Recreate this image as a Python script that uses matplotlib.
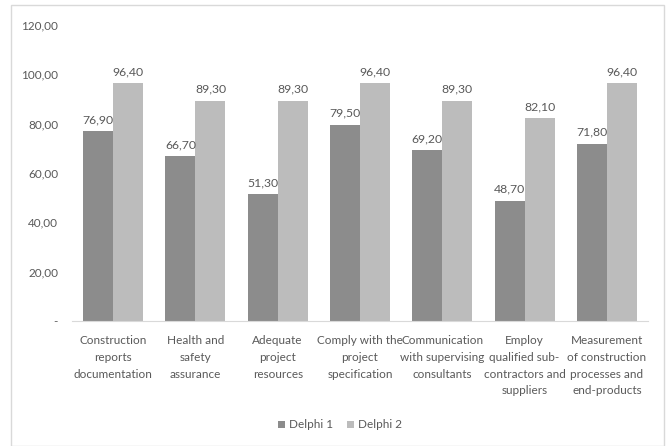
import matplotlib
matplotlib.use("Agg")
import matplotlib.pyplot as plt
import numpy as np
from matplotlib.patches import Rectangle

categories = [
    "Construction\nreports\ndocumentation",
    "Health and\nsafety\nassurance",
    "Adequate\nproject\nresources",
    "Comply with the\nproject\nspecification",
    "Communication\nwith supervising\nconsultants",
    "Employ\nqualified sub-\ncontractors and\nsuppliers",
    "Measurement\nof construction\nprocesses and\nend-products",
]
delphi1 = [76.9, 66.7, 51.3, 79.5, 69.2, 48.7, 71.8]
delphi2 = [96.4, 89.3, 89.3, 96.4, 89.3, 82.1, 96.4]
series_names = ["Delphi 1", "Delphi 2"]
yticks = [0, 20, 40, 60, 80, 100, 120]

def fmt(v):
    return f"{v:.2f}".replace(".", ",")

plt.rcParams['font.family'] = ['Lato', 'DejaVu Sans']
txt = "#595959"
c1, c2 = "#8c8c8c", "#bcbcbc"

fig = plt.figure(figsize=(6.68, 4.46), dpi=100)
fig.patches.append(Rectangle((11/668, 0), 653/668, 441/446, transform=fig.transFigure,
                             fill=False, edgecolor="#d9d9d9", linewidth=1.0))
ax = fig.add_axes([72/668, 125/446, 576/668, 296/446])

x = np.arange(len(categories))
w = 0.365
b1 = ax.bar(x - w/2, delphi1, w, color=c1, label=series_names[0])
b2 = ax.bar(x + w/2, delphi2, w, color=c2, label=series_names[1])
for bars, vals in ((b1, delphi1), (b2, delphi2)):
    for r, v in zip(bars, vals):
        ax.text(r.get_x() + r.get_width()/2, v + 2.5, fmt(v), ha="center", va="bottom",
                fontsize=8.8, color=txt)

ax.set_xlim(-0.5, len(categories) - 0.5)
ax.set_ylim(0, 120)
ax.set_yticks(yticks)
ax.set_yticklabels(["-" if t == 0 else fmt(t) for t in yticks], fontsize=8.5, color=txt)
ax.set_xticks(x)
ax.set_xticklabels(categories, fontsize=8.5, color=txt, linespacing=1.65)
ax.tick_params(axis="both", length=0)
ax.tick_params(axis="y", pad=10)
ax.tick_params(axis="x", pad=10)
for s in ("top", "right", "left"):
    ax.spines[s].set_visible(False)
ax.spines["bottom"].set_color("#d9d9d9")

leg = fig.legend(handles=[b1, b2], labels=series_names, loc="center", bbox_to_anchor=(340/668, 1 - 425/446),
                 ncol=2, frameon=False, fontsize=8.5, handlelength=0.6, handleheight=0.6,
                 handletextpad=0.3, columnspacing=1.2)
for t in leg.get_texts():
    t.set_color(txt)

fig.savefig("out.png", dpi=100)
